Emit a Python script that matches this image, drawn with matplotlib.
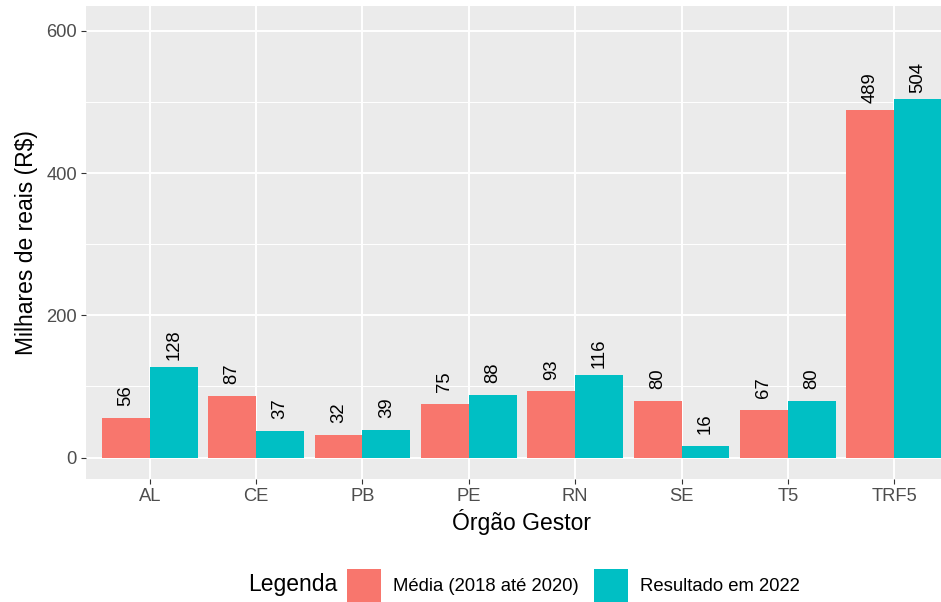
import matplotlib
matplotlib.use("Agg")
import matplotlib.pyplot as plt
import numpy as np
from matplotlib.patches import Patch

plt.rcParams['font.family'] = ['Liberation Sans', 'DejaVu Sans']

categories = ["AL", "CE", "PB", "PE", "RN", "SE", "T5", "TRF5"]
media_2018_2020 = [56, 87, 32, 75, 93, 80, 67, 489]
resultado_2022 = [128, 37, 39, 88, 116, 16, 80, 504]
series_names = ["Média (2018 até 2020)", "Resultado em 2022"]
series_colors = ["#F8766D", "#00BFC4"]
yticks = [0, 200, 400, 600]
minor_yticks = [100, 300, 500]

W, H = 941, 602
fig = plt.figure(figsize=(W / 100, H / 100), dpi=100)
left, right, top, bottom = 86, 958, 6, 479
ax = fig.add_axes([left / W, 1 - bottom / H, (right - left) / W, (bottom - top) / H])
ax.set_facecolor("#EBEBEB")

x = np.arange(len(categories))
bw = 0.45
series = [media_2018_2020, resultado_2022]
offsets = [-bw / 2, bw / 2]
for vals, off, col, name in zip(series, offsets, series_colors, series_names):
    ax.bar(x + off, vals, width=bw, color=col, label=name, zorder=3)
    for xi, v in zip(x + off, vals):
        ax.text(xi, v + 31, f"{v}", rotation=90, ha="center", va="center",
                fontsize=13.3, color="black", zorder=4)

ax.set_xlim(-0.6, 7.6)
ax.set_ylim(-30.2, 635)
ax.set_xticks(x)
ax.set_xticklabels(categories)
ax.set_yticks(yticks)
ax.set_yticks(minor_yticks, minor=True)
ax.grid(True, which="major", color="white", linewidth=1.4, zorder=0)
ax.grid(True, which="minor", axis="y", color="white", linewidth=0.7, zorder=0)
ax.set_axisbelow(True)
for s in ax.spines.values():
    s.set_visible(False)
ax.tick_params(axis="both", which="major", length=3.6, width=0.8, color="#333333",
               labelsize=13.2, labelcolor="#4D4D4D", pad=3)
ax.tick_params(axis="y", which="minor", length=0)
ax.set_xlabel("Órgão Gestor", fontsize=16.5, color="black", labelpad=3)
ax.set_ylabel("Milhares de reais (R$)", fontsize=16.5, color="black", labelpad=6)

handles = [Patch(facecolor=c, edgecolor="none") for c in series_colors]
fig.legend(handles, series_names, loc="center left", bbox_to_anchor=(347 / W, 1 - 585.5 / H),
           ncol=2, frameon=False, fontsize=13.3, handlelength=1.85, handleheight=2.35,
           handletextpad=0.62, columnspacing=0.85, borderpad=0, borderaxespad=0)
fig.text(248 / W, 1 - 585 / H, "Legenda", fontsize=16.5, ha="left", va="center", color="black")

fig.savefig("out.png", dpi=100)
